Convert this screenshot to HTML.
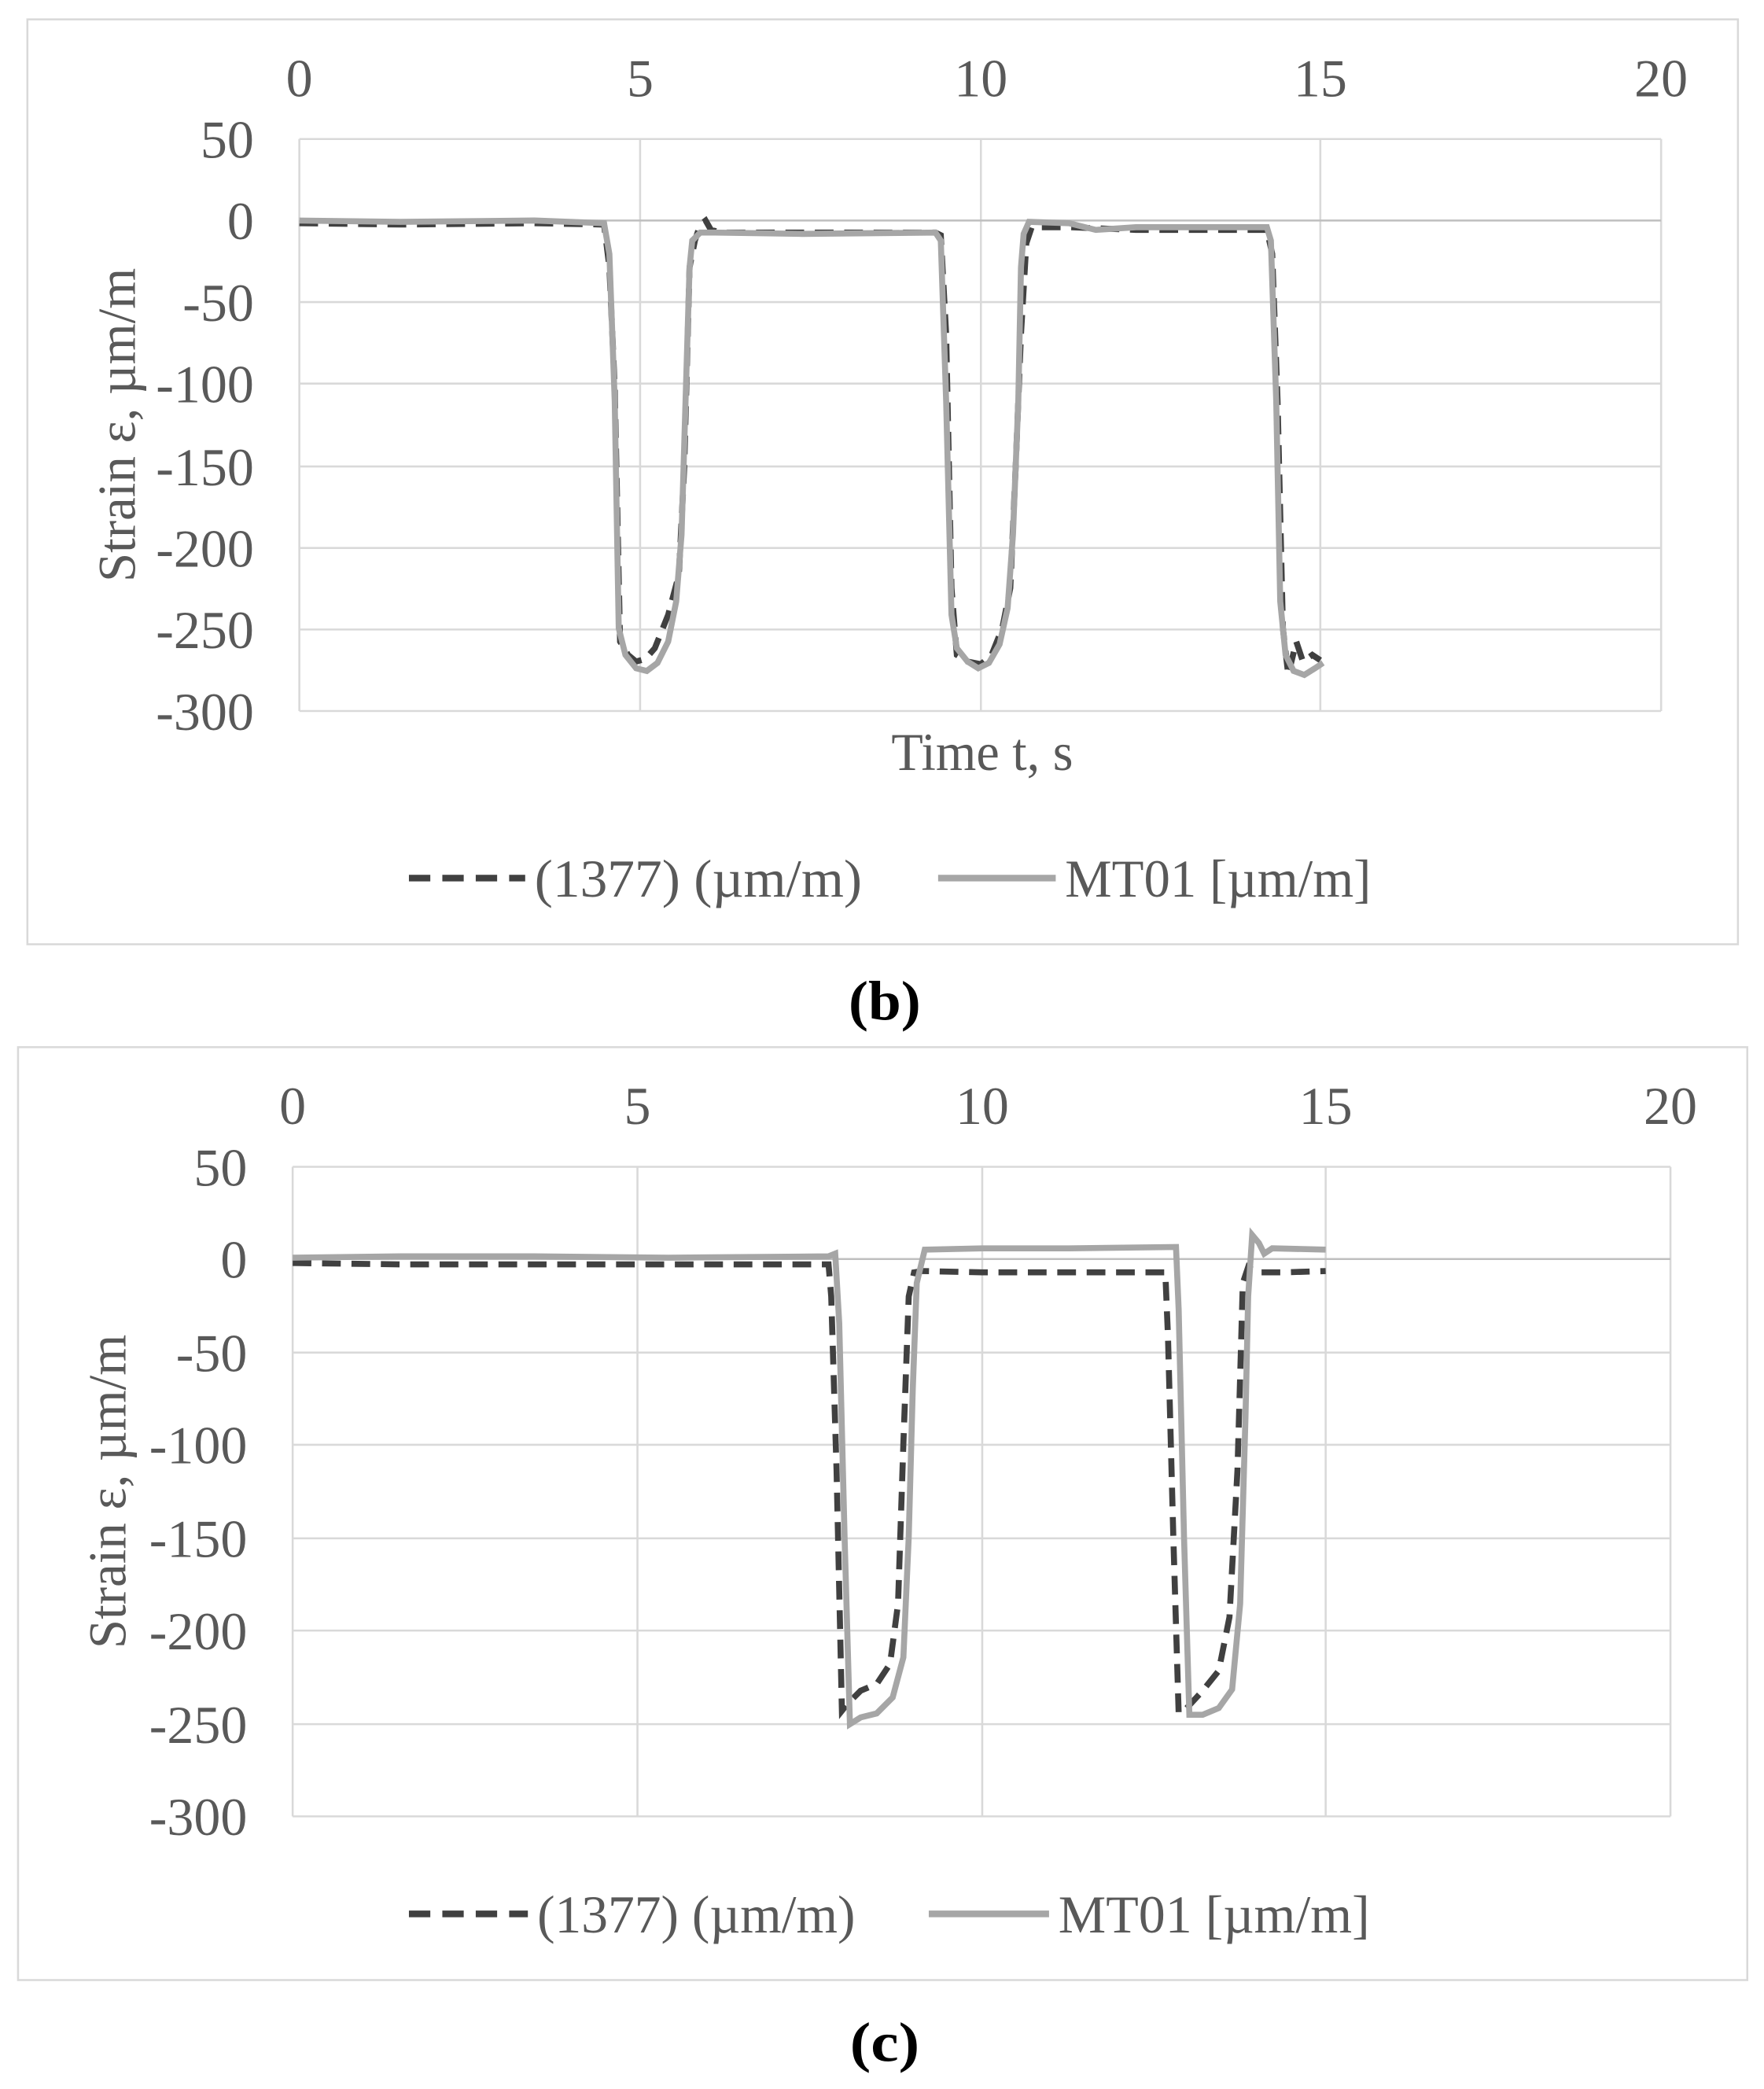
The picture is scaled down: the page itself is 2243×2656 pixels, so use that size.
<!DOCTYPE html>
<html><head><meta charset="utf-8"><style>html,body{margin:0;padding:0;background:#fff}svg{display:block}</style></head>
<body>
<svg width="2243" height="2656" viewBox="0 0 1320 1563" preserveAspectRatio="none" xmlns="http://www.w3.org/2000/svg" font-family="Liberation Serif, serif">
<!-- Chart b -->
<rect x="20.5" y="14.5" width="1280" height="692" fill="#fff" stroke="#d9d9d9" stroke-width="1.5"/>
<g stroke="#d9d9d9" stroke-width="1.5">
<line x1="224" y1="104" x2="1243" y2="104"/><line x1="224" y1="226" x2="1243" y2="226"/><line x1="224" y1="287" x2="1243" y2="287"/><line x1="224" y1="349" x2="1243" y2="349"/><line x1="224" y1="410" x2="1243" y2="410"/><line x1="224" y1="471" x2="1243" y2="471"/><line x1="224" y1="532" x2="1243" y2="532"/>
<line x1="224" y1="104" x2="224" y2="532"/><line x1="479" y1="104" x2="479" y2="532"/><line x1="734" y1="104" x2="734" y2="532"/><line x1="988" y1="104" x2="988" y2="532"/><line x1="1243" y1="104" x2="1243" y2="532"/>
</g>
<line x1="224" y1="165" x2="1243" y2="165" stroke="#bfbfbf" stroke-width="1.5"/>
<g fill="#595959" font-size="40" text-anchor="middle">
<text x="224" y="72">0</text><text x="479" y="72">5</text><text x="734" y="72">10</text><text x="988" y="72">15</text><text x="1243" y="72">20</text>
</g>
<g fill="#595959" font-size="40" text-anchor="end">
<text x="190" y="118">50</text><text x="190" y="179">0</text><text x="190" y="240">-50</text><text x="190" y="301">-100</text><text x="190" y="363">-150</text><text x="190" y="424">-200</text><text x="190" y="485">-250</text><text x="190" y="546">-300</text>
</g>
<text transform="translate(101,318) rotate(-90)" text-anchor="middle" fill="#595959" font-size="40" textLength="235" lengthAdjust="spacingAndGlyphs">Strain ε, µm/m</text>
<text x="735" y="576" text-anchor="middle" fill="#595959" font-size="40" textLength="136" lengthAdjust="spacingAndGlyphs">Time t, s</text>
<polyline fill="none" stroke="#404040" stroke-width="4.5" stroke-dasharray="14,8" points="224,167 300,168 400,167 452,168 456,200 460,290 464,480 470,490 476,495 483,493 490,485 500,460 508,430 512,350 516,200 520,180 524,168 528,165 532,172 540,174 600,174 700,174 704,176 708,250 712,440 716,490 724,495 734,497 742,490 750,470 756,440 760,350 764,250 768,182 772,170 800,170 850,172 948,172 952,190 956,300 960,470 964,505 970,480 975,495 982,490 988,494"/>
<polyline fill="none" stroke="#a6a6a6" stroke-width="4.5" points="224,165 300,166 400,165 452,167 456,190 460,300 463,470 468,490 476,500 484,502 492,496 500,480 506,450 510,400 513,300 516,200 518,180 524,174 535,174 600,175 700,174 704,180 708,300 712,460 716,485 724,495 732,500 740,496 748,482 754,455 758,400 762,300 764,200 766,175 770,166 800,167 820,172 850,170 948,170 951,180 955,300 958,450 962,490 968,502 976,505 984,500 990,496"/>
<line x1="306" y1="657" x2="393" y2="657" stroke="#404040" stroke-width="5" stroke-dasharray="16,9"/>
<text x="400" y="671" fill="#595959" font-size="40" textLength="245" lengthAdjust="spacingAndGlyphs">(1377)  (µm/m)</text>
<line x1="702" y1="657" x2="790" y2="657" stroke="#a6a6a6" stroke-width="5"/>
<text x="797" y="671" fill="#595959" font-size="40" textLength="229" lengthAdjust="spacingAndGlyphs">MT01 [µm/m]</text>
<text x="662" y="763" text-anchor="middle" fill="#000" font-size="42" font-weight="bold" textLength="54" lengthAdjust="spacingAndGlyphs">(b)</text>

<!-- Chart c -->
<rect x="13.5" y="783.5" width="1294" height="698" fill="#fff" stroke="#d9d9d9" stroke-width="1.5"/>
<g stroke="#d9d9d9" stroke-width="1.5">
<line x1="219" y1="873" x2="1250" y2="873"/><line x1="219" y1="1012" x2="1250" y2="1012"/><line x1="219" y1="1081" x2="1250" y2="1081"/><line x1="219" y1="1151" x2="1250" y2="1151"/><line x1="219" y1="1220" x2="1250" y2="1220"/><line x1="219" y1="1290" x2="1250" y2="1290"/><line x1="219" y1="1359" x2="1250" y2="1359"/>
<line x1="219" y1="873" x2="219" y2="1359"/><line x1="477" y1="873" x2="477" y2="1359"/><line x1="735" y1="873" x2="735" y2="1359"/><line x1="992" y1="873" x2="992" y2="1359"/><line x1="1250" y1="873" x2="1250" y2="1359"/>
</g>
<line x1="219" y1="942" x2="1250" y2="942" stroke="#bfbfbf" stroke-width="1.5"/>
<g fill="#595959" font-size="40" text-anchor="middle">
<text x="219" y="841">0</text><text x="477" y="841">5</text><text x="735" y="841">10</text><text x="992" y="841">15</text><text x="1250" y="841">20</text>
</g>
<g fill="#595959" font-size="40" text-anchor="end">
<text x="185" y="887">50</text><text x="185" y="956">0</text><text x="185" y="1026">-50</text><text x="185" y="1095">-100</text><text x="185" y="1165">-150</text><text x="185" y="1234">-200</text><text x="185" y="1304">-250</text><text x="185" y="1373">-300</text>
</g>
<text transform="translate(94,1116) rotate(-90)" text-anchor="middle" fill="#595959" font-size="40" textLength="235" lengthAdjust="spacingAndGlyphs">Strain ε, µm/m</text>
<polyline fill="none" stroke="#404040" stroke-width="4.5" stroke-dasharray="14,8" points="219,945 300,946 400,946 500,946 620,946 622,970 626,1100 630,1280 634,1275 644,1265 656,1260 666,1245 672,1200 676,1080 680,970 684,952 690,951 735,952 800,952 872,952 874,1000 878,1150 882,1282 888,1278 900,1265 912,1250 920,1210 926,1100 930,960 934,948 940,952 960,952 992,951"/>
<polyline fill="none" stroke="#a6a6a6" stroke-width="4.5" points="219,941 300,940 400,940 500,941 620,940 625,938 628,990 632,1150 636,1290 644,1285 656,1282 668,1270 676,1240 680,1150 683,1040 686,960 692,935 735,934 800,934 880,933 882,980 886,1150 890,1283 900,1283 912,1278 922,1264 928,1200 932,1060 934,970 937,924 942,930 946,938 952,934 992,935"/>
<line x1="306" y1="1432" x2="395" y2="1432" stroke="#404040" stroke-width="5" stroke-dasharray="16,9"/>
<text x="402" y="1446" fill="#595959" font-size="40" textLength="238" lengthAdjust="spacingAndGlyphs">(1377) (µm/m)</text>
<line x1="695" y1="1432" x2="785" y2="1432" stroke="#a6a6a6" stroke-width="5"/>
<text x="792" y="1446" fill="#595959" font-size="40" textLength="233" lengthAdjust="spacingAndGlyphs">MT01 [µm/m]</text>
<text x="662" y="1542" text-anchor="middle" fill="#000" font-size="42" font-weight="bold" textLength="52" lengthAdjust="spacingAndGlyphs">(c)</text>
</svg>
</body></html>
